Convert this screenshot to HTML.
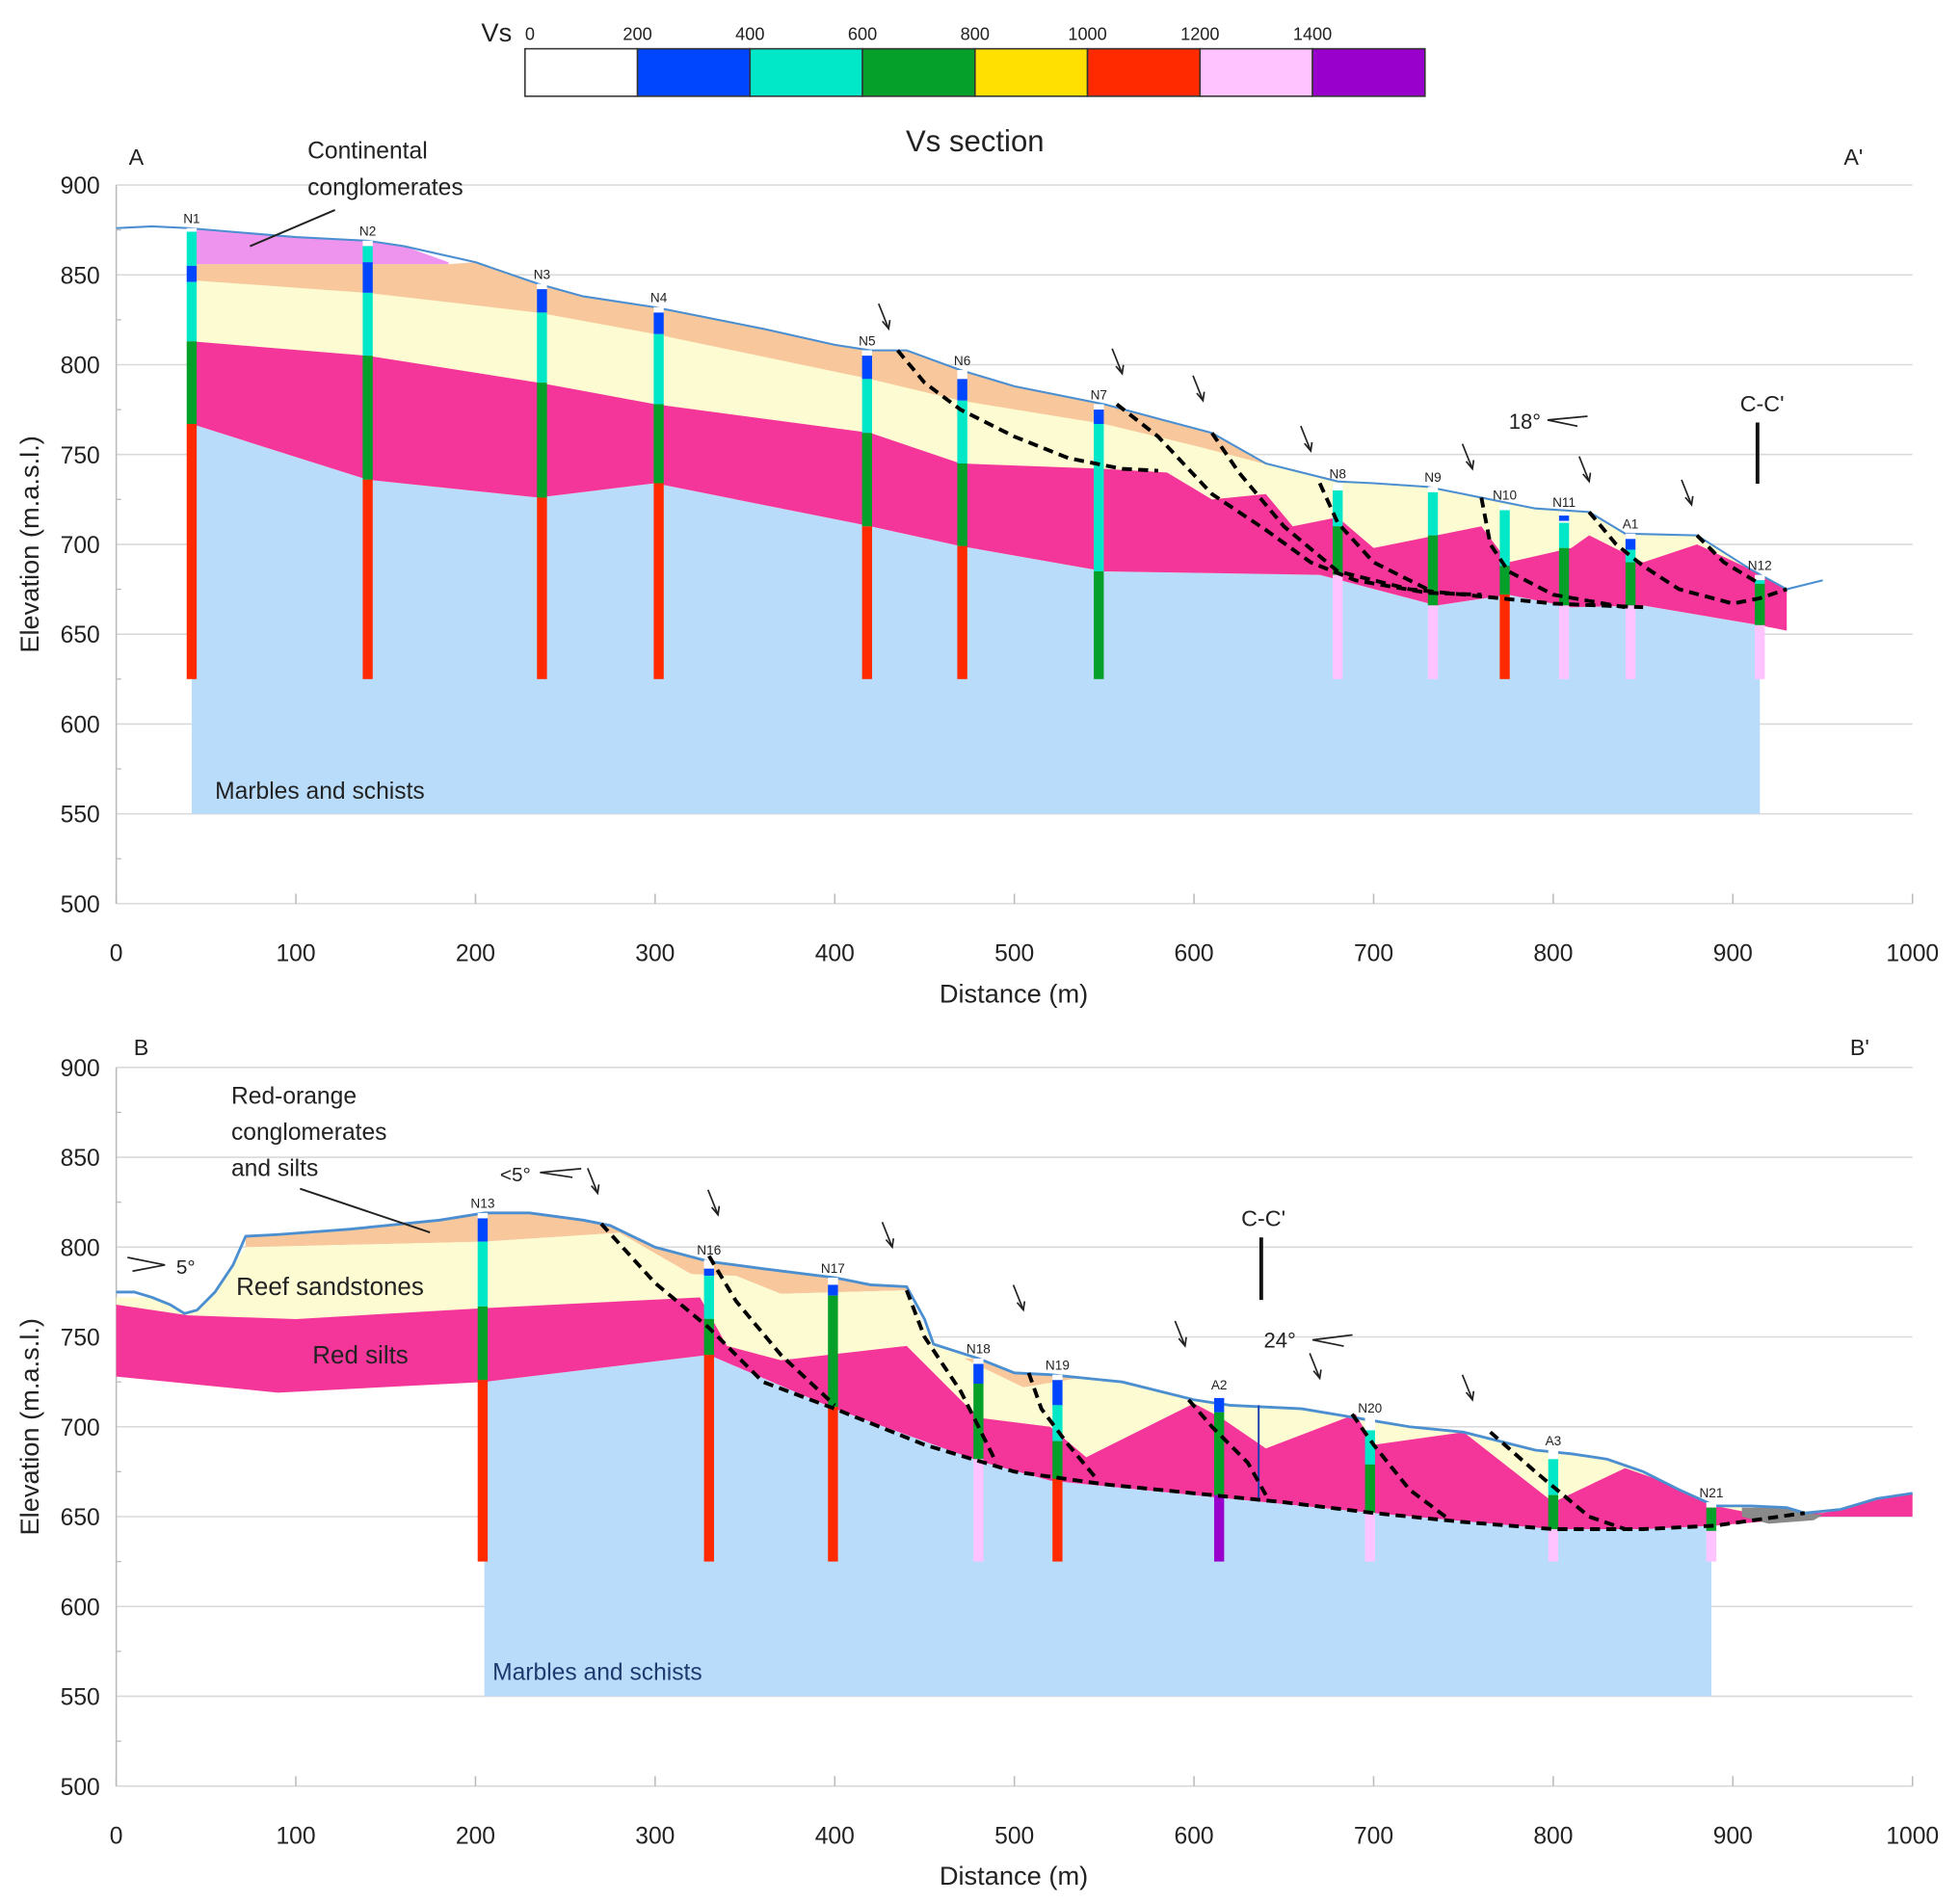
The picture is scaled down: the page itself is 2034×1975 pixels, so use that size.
<!DOCTYPE html>
<html><head><meta charset="utf-8"><title>Vs section</title>
<style>
html,body{margin:0;padding:0;background:#fff;}
svg{display:block;font-family:"Liberation Sans",sans-serif;}
</style></head>
<body>
<svg id="fig" width="2034" height="1975" viewBox="0 0 1568 1522.5" xmlns="http://www.w3.org/2000/svg">
<rect x="0" y="0" width="1568" height="1523" fill="#fff"/>
</svg>
<script>
// ---------- DATA ----------
const legendVs = [0,200,400,600,800,1000,1200,1400];
const legendColors = ["#ffffff","#0046ff","#00e8c8","#04a02a","#ffe000","#ff2a00","#ffc4ff","#9a00cc"];
const xTicks = [0,100,200,300,400,500,600,700,800,900,1000];
const yTicks = [500,550,600,650,700,750,800,850,900];

// Section A-A' (distance m, elevation m)
const topoA = [[0,876],[20,877],[40,876],[100,871],[140,869],[160,866],[200,857],[235,845],[260,838],[300,832],[360,820],[400,811],[420,808],[440,808],[470,797],[500,788],[550,778],[580,770],[610,762],[640,745],[680,735],[700,734],[730,732],[760,726],[790,720],[820,718],[840,706],[880,705],[910,686],[930,675],[950,680]];
const pinkTopA = [[42,876],[100,871],[140,869],[160,866],[185,857]];
const pinkBotA = [[42,856],[185,856]];
const orangeTopA = [[42,856],[185,856],[200,857],[235,845],[260,838],[300,832],[360,820],[400,811],[420,808],[440,808],[470,797],[500,788],[550,778],[580,770],[610,762],[640,745],[650,742]];
const yellowTopA = [[42,847],[140,840],[235,829],[300,817],[420,792],[470,780],[550,767],[600,755],[650,742],[680,735],[700,734],[730,732],[760,726],[790,720],[820,718],[840,706],[880,705],[910,686],[930,675]];
const magentaTopA = [[42,813],[140,805],[235,790],[300,778],[420,762],[470,745],[550,742],[585,740],[610,725],[640,728],[655,710],[680,715],[700,698],[735,705],[760,710],[775,690],[810,698],[820,705],[850,690],[880,700],[910,686],[930,675]];
const baseA = [[42,767],[140,736],[235,726],[300,734],[420,710],[470,699],[550,685],[670,683],[735,666],[775,672],[810,665],[850,666],[915,655],[930,652]];
const faultsA = [
 [[435,808],[450,790],[470,775],[500,760],[530,748],[560,742],[580,741]],
 [[557,778],[580,760],[610,728],[640,708],[665,690],[690,680],[730,673],[760,672]],
 [[610,762],[625,740],[650,710],[680,685],[720,675],[770,670],[800,667],[850,665]],
 [[670,734],[680,712],[700,690],[730,675]],
 [[760,726],[765,700],[775,685],[800,672],[840,665]],
 [[820,718],[835,700],[850,688],[870,675],[900,667],[915,670],[930,675]],
 [[880,705],[895,690],[915,678]]
];
const holeNamesA = ["N1","N2","N3","N4","N5","N6","N7","N8","N9","N10","N11","A1","N12"];
const holeXA = [42,140,237,302,418,471,547,680,733,773,806,843,915];
const holeLayersA = [
 [[876,874,0],[874,855,2],[855,846,1],[846,813,2],[813,767,3],[767,625,5]],
 [[869,866,0],[866,857,2],[857,840,1],[840,805,2],[805,736,3],[736,625,5]],
 [[845,842,0],[842,829,1],[829,790,2],[790,726,3],[726,625,5]],
 [[832,829,0],[829,817,1],[817,778,2],[778,734,3],[734,625,5]],
 [[808,805,0],[805,792,1],[792,762,2],[762,710,3],[710,625,5]],
 [[797,792,0],[792,780,1],[780,745,2],[745,699,3],[699,625,5]],
 [[778,775,0],[775,767,1],[767,685,2],[685,625,3]],
 [[734,730,0],[730,710,2],[710,683,3],[683,625,6]],
 [[732,729,0],[729,705,2],[705,666,3],[666,625,6]],
 [[722,719,0],[719,688,2],[688,672,3],[672,625,5]],
 [[718,716,0],[716,713,1],[713,712,0],[712,698,2],[698,666,3],[666,625,6]],
 [[706,703,0],[703,697,1],[697,690,2],[690,666,3],[666,625,6]],
 [[683,680,0],[680,678,2],[678,655,3],[655,625,6]]
];
const arrowsA = [[430,820],[560,795],[605,780],[665,752],[755,742],[820,735],[877,722]];

// Section B-B'
const topoB = [[0,775],[10,775],[20,772],[30,768],[38,763],[45,765],[55,775],[65,790],[72,806],[90,807],[130,810],[180,815],[205,819],[230,819],[260,815],[275,812],[300,800],[330,792],[360,788],[400,783],[420,779],[440,778],[450,760],[455,746],[480,738],[500,730],[520,729],[560,725],[600,715],[620,712],[660,710],[690,705],[720,700],[750,697],[790,687],[810,685],[830,682],[850,675],[870,665],[890,656],[910,656],[930,655],[940,652],[960,654],[980,660],[1000,663]];
const orangeTopB = [[72,806],[90,807],[130,810],[180,815],[205,819],[230,819],[260,815],[275,812],[300,800],[330,792],[360,788],[400,783],[420,779],[440,778]];
const orangeBotB = [[72,800],[205,803],[280,808],[320,785],[345,784],[370,774],[440,776]];
const orangeSmallB = [[472,738],[480,738],[500,730],[520,729],[535,727],[505,722]];
const yellowTopB = [[0,772],[20,772],[30,768],[38,763],[45,765],[55,775],[65,790],[72,800],[205,803],[280,808],[320,785],[345,784],[370,774],[440,776],[455,746],[480,738],[500,730],[520,729],[560,725],[600,715],[620,712],[660,710],[690,705],[720,700],[750,697],[790,687],[810,685],[830,682],[850,675],[870,665],[890,656]];
const magentaTopB = [[0,768],[40,762],[100,760],[205,766],[325,772],[340,745],[370,737],[440,745],[480,705],[520,700],[540,683],[600,713],[615,705],[640,688],[690,707],[700,690],[750,697],[800,658],[840,677],[860,670],[890,656],[910,652],[950,652],[960,654],[980,660],[1000,663]];
const baseB = [[0,728],[90,719],[205,725],[330,740],[400,710],[480,681],[520,670],[620,660],[700,652],[800,643],[850,643],[890,645],[950,650],[1000,650]];
const greyB = [[905,655],[930,655],[940,652],[950,651],[945,648],[920,646],[905,650]];
const faultsB = [
 [[270,813],[300,780],[330,755],[360,725],[400,710],[450,690],[500,675],[550,668],[600,663],[650,658],[700,652],[750,647],[800,643],[850,643],[890,645],[940,652]],
 [[330,795],[345,770],[370,740],[400,712]],
 [[440,776],[450,750],[470,720],[480,700],[490,680]],
 [[508,730],[515,710],[530,690],[545,672]],
 [[597,715],[610,700],[630,680],[640,662]],
 [[688,707],[700,690],[720,665],[740,650]],
 [[765,697],[790,675],[820,650],[840,643]]
];
const holeNamesB = ["N13","N16","N17","N18","N19","A2","N20","A3","N21"];
const holeXB = [204,330,399,480,524,614,698,800,888];
const holeLayersB = [
 [[819,816,0],[816,803,1],[803,767,2],[767,726,3],[726,625,5]],
 [[793,788,0],[788,784,1],[784,760,2],[760,740,3],[740,625,5]],
 [[783,779,0],[779,773,1],[773,711,3],[711,625,5]],
 [[738,735,0],[735,724,1],[724,682,3],[682,625,6]],
 [[729,726,0],[726,712,1],[712,692,2],[692,671,3],[671,625,5]],
 [[718,716,0],[716,708,1],[708,662,3],[662,625,7]],
 [[705,698,0],[698,679,2],[679,652,3],[652,625,6]],
 [[687,682,0],[682,662,2],[662,643,3],[643,625,6]],
 [[658,655,0],[655,642,3],[642,625,6]]
];
const arrowsB = [[268,830],[335,818],[432,800],[505,765],[595,745],[670,727],[755,715]];

// ---------- DRAW ----------
const NS="http://www.w3.org/2000/svg";
const svg=document.getElementById('fig');
const X0=93, PXM=1.437, PXE=1.4375;
function X(d){return X0+d*PXM;}
function mkY(top){return e=>top+(900-e)*PXE;}
function el(tag,attrs,parent){const e=document.createElementNS(NS,tag);for(const k in attrs)e.setAttribute(k,attrs[k]);(parent||svg).appendChild(e);return e;}
function pts(arr,Y){return arr.map(p=>X(p[0]).toFixed(1)+','+Y(p[1]).toFixed(1)).join(' ');}
function txt(s,x,y,size,attrs,parent){const t=el('text',Object.assign({x:x,y:y,'font-size':size,fill:'#222'},attrs||{}),parent);t.textContent=s;return t;}
function layer(top,bottom,color,Y,g,name){
  const a=top.concat(bottom.slice().reverse());
  const p=el('polygon',{points:pts(a,Y),fill:color},g);
  
  
}

// legend
const lg=el('g',{});


txt('Vs',385,33,21,{},lg);
legendVs.forEach((v,i)=>{
  const r=el('rect',{x:420+i*90,y:39,width:90,height:38,fill:legendColors[i],stroke:'#333','stroke-width':1.2},lg);
  
  
  const t=txt(String(v),420+i*90,32,14,{'text-anchor':i==0?'start':'middle'},lg);
  
  
});

function axes(g,Y){
  yTicks.forEach(v=>{
    const l=el('line',{x1:X0,x2:1530,y1:Y(v),y2:Y(v),stroke:'#d9d9d9','stroke-width':1.2},g);
    
    
    const t=txt(String(v),80,Y(v)+7,19,{'text-anchor':'end'},g);
    
    
  });
  for(let v=525;v<900;v+=50){el('line',{x1:X0,x2:X0+4,y1:Y(v),y2:Y(v),stroke:'#bbb','stroke-width':1},g);}
  el('line',{x1:X0,x2:X0,y1:Y(900),y2:Y(500),stroke:'#bbb','stroke-width':1.2},g);
  xTicks.forEach(v=>{
    el('line',{x1:X(v),x2:X(v),y1:Y(500),y2:Y(500)-8,stroke:'#bbb','stroke-width':1.2},g);
    const t=txt(String(v),X(v),Y(500)+46,19,{'text-anchor':'middle'},g);
    
    
  });
  const xt=txt('Distance (m)',811,Y(500)+79,21,{'text-anchor':'middle'},g);
  
  
  const cy=(Y(900)+Y(500))/2;
  const yt=txt('Elevation (m.a.s.l.)',31,cy,21,{'text-anchor':'middle',transform:'rotate(-90 31 '+cy+')'},g);
  
  
}
function holes(g,Y,names,xs,layers){
  names.forEach((n,i)=>{
    const hg=el('g',{},g);
    
    
    layers[i].forEach(L=>{
      el('rect',{x:X(xs[i])-4,y:Y(L[0]),width:8,height:Math.max(0.5,Y(L[1])-Y(L[0])),fill:legendColors[L[2]]},hg);
    });
    txt(n,X(xs[i]),Y(layers[i][0][0])-4,10.5,{'text-anchor':'middle'},hg);
  });
}
function faults(g,Y,list){
  list.forEach((f,i)=>{
    const p=el('polyline',{points:pts(f,Y),fill:'none',stroke:'#000','stroke-width':3,'stroke-dasharray':'8,5'},g);
    
    
  });
}
function arrows(g,Y,list){
  list.forEach((a,i)=>{
    const x=X(a[0]),y=Y(a[1]);
    const ag=el('g',{stroke:'#222','stroke-width':1.3,fill:'none'},g);
    
    
    el('line',{x1:x-8,y1:y-20,x2:x,y2:y},ag);
    el('polyline',{points:(x-5)+','+(y-6)+' '+x+','+y+' '+(x+1)+','+(y-7)},ag);
  });
}

// ---- Section A ----
const YA=mkY(148);
const gA=el('g',{});


axes(gA,YA);
layer(baseA.filter(p=>p[0]<=915),[[42,550],[915,550]],'#b9dcfb',YA,gA,'marbles-schists-layer');
layer(orangeTopA,baseA,'#f8c89c',YA,gA,'orange-layer');
layer(pinkTopA,pinkBotA,'#ee94ee',YA,gA,'continental-conglomerates-layer');
layer(yellowTopA,baseA,'#fdfbd2',YA,gA,'yellow-layer');
layer(magentaTopA,baseA,'#f4359a',YA,gA,'red-silts-layer');
const tA=el('polyline',{points:pts(topoA,YA),fill:'none',stroke:'#4b8fd1','stroke-width':1.6},gA);


holes(gA,YA,holeNamesA,holeXA,holeLayersA);
faults(gA,YA,faultsA);
arrows(gA,YA,arrowsA);
txt('A',103,132,18,{},gA);
txt("A'",1475,132,18,{},gA);
txt('Vs section',780,121,24,{'text-anchor':'middle'},gA);
txt('Continental',246,127,19,{},gA);
txt('conglomerates',246,156,19,{},gA);
el('line',{x1:268,y1:168,x2:200,y2:197,stroke:'#222','stroke-width':1.5},gA);
txt('Marbles and schists',172,639,19,{},gA);
txt('18°',1207,343,17,{},gA);
el('polyline',{points:'1270,333 1238,336 1262,341',fill:'none',stroke:'#222','stroke-width':1.3},gA);
txt("C-C'",1392,329,18,{},gA);
el('line',{x1:1406,y1:338,x2:1406,y2:387,stroke:'#111','stroke-width':3},gA);

// ---- Section B ----
const YB=mkY(854);
const gB=el('g',{});


axes(gB,YB);
layer(baseB.filter(p=>p[0]>=205&&p[0]<=888).concat([[888,645]]),[[205,550],[888,550]],'#b9dcfb',YB,gB,'marbles-schists-layer');
el('polygon',{points:pts([[205,725],[205,550],[888,550],[888,645],[850,643],[800,643],[700,652],[620,660],[520,670],[480,681],[400,710],[330,740]],YB),fill:'#b9dcfb'},gB);
layer(orangeTopB,orangeBotB,'#f8c89c',YB,gB,'red-orange-conglomerates-layer');
layer(yellowTopB,baseB,'#fdfbd2',YB,gB,'reef-sandstones-layer');
const os=el('polygon',{points:pts(orangeSmallB,YB),fill:'#f8c89c'},gB);


layer(magentaTopB,baseB,'#f4359a',YB,gB,'red-silts-layer');
const gr=el('polygon',{points:pts(greyB,YB),fill:'#8a8a8a'},gB);


const tB=el('polyline',{points:pts(topoB,YB),fill:'none',stroke:'#4b8fd1','stroke-width':2.2},gB);


el('line',{x1:X(636),x2:X(636),y1:YB(712),y2:YB(660),stroke:'#1a3fb0','stroke-width':1.5},gB);
holes(gB,YB,holeNamesB,holeXB,holeLayersB);
faults(gB,YB,faultsB);
arrows(gB,YB,arrowsB);
txt('B',107,844,18,{},gB);
txt("B'",1480,844,18,{},gB);
txt('Red-orange',185,883,19,{},gB);
txt('conglomerates',185,912,19,{},gB);
txt('and silts',185,941,19,{},gB);
el('line',{x1:240,y1:951,x2:344,y2:986,stroke:'#222','stroke-width':1.5},gB);
txt('<5°',400,945,16,{},gB);
el('polyline',{points:'465,935 432,938 458,942',fill:'none',stroke:'#222','stroke-width':1.3},gB);
txt('5°',141,1019,16,{},gB);
el('polyline',{points:'102,1006 132,1012 106,1017',fill:'none',stroke:'#222','stroke-width':1.3},gB);
txt('Reef sandstones',189,1036,20,{},gB);
txt('Red silts',250,1091,20,{},gB);
txt('24°',1011,1078,17,{},gB);
el('polyline',{points:'1082,1068 1050,1072 1075,1077',fill:'none',stroke:'#222','stroke-width':1.3},gB);
txt("C-C'",993,981,18,{},gB);
el('line',{x1:1009,y1:990,x2:1009,y2:1040,stroke:'#111','stroke-width':3},gB);
txt('Marbles and schists',394,1344,19,{fill:'#1f3a6e'},gB);
</script>
</body></html>
